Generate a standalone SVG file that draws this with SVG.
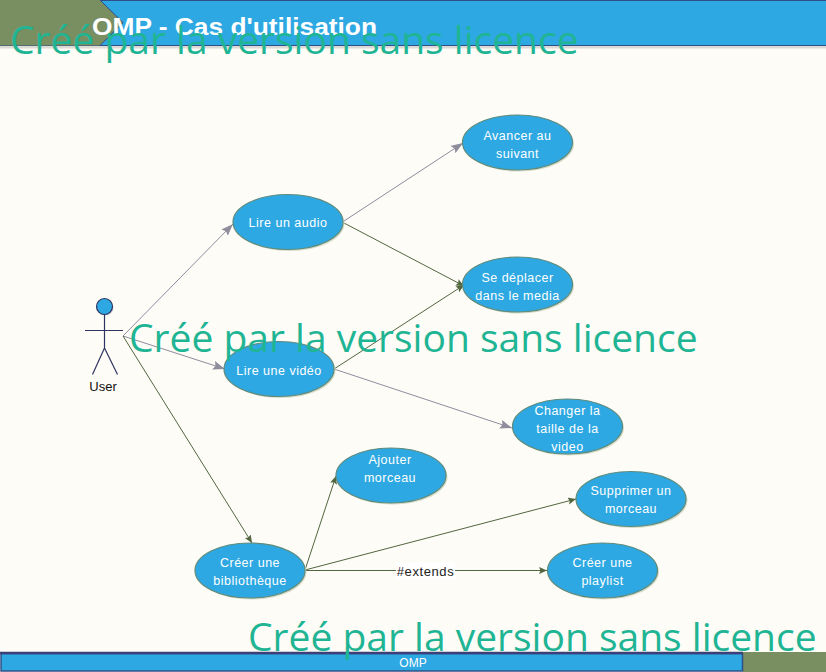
<svg xmlns="http://www.w3.org/2000/svg" width="826" height="672" viewBox="0 0 826 672">
<style>
text{font-family:"Liberation Sans","DejaVu Sans",sans-serif}
.u{fill:#2ea8e2;stroke:#5f8a7c;stroke-width:1.2}
.sh{fill:#d5dcc8}
.l{fill:#fff;font-size:12.5px;text-anchor:middle;letter-spacing:.5px}
.g{fill:none;stroke:#8f8c9c;stroke-width:1;marker-end:url(#ag)}
.d{fill:none;stroke:#52663f;stroke-width:1;marker-end:url(#ad)}
.w{fill:#1fb594;font-family:"Open Sans","Noto Sans",sans-serif;font-size:39px}
.a{fill:none;stroke:#2f3560;stroke-width:1.2}
</style>
<defs>
<marker id="ag" markerUnits="userSpaceOnUse" markerWidth="13" markerHeight="10" refX="12" refY="4.500" orient="auto"><path d="M0 0L12 4.500L0 9L2 4.500Z" fill="#8f8c9c"/></marker>
<marker id="ad" markerUnits="userSpaceOnUse" markerWidth="9" markerHeight="8" refX="8" refY="3.500" orient="auto"><path d="M0 0L8 3.500L0 7L1.500 3.500Z" fill="#52663f"/></marker>
</defs>
<rect width="826" height="672" fill="#fdfcf7"/>
<g id="header">
<rect x="0" y="46" width="826" height="2.500" fill="#dcdad6"/>
<rect x="0" y="0" width="826" height="45.500" fill="#2ea8e2"/>
<path d="M0 .5H826M0 45.500H826" stroke="#2f4f86" stroke-width="1" fill="none"/>
<path d="M0 0H100L123 22.700L100 45.500H0Z" fill="#7a8f61"/>
<path d="M100 0L123 22.700L100 45.500" stroke="#2f4f86" fill="none"/>
<text x="92" y="35" fill="#fff" font-size="24" font-weight="bold" textLength="285" lengthAdjust="spacingAndGlyphs">OMP - Cas d'utilisation</text>
</g>
<g id="footer">
<rect x="743" y="652" width="83" height="20" fill="#7a8f61"/>
<rect x="1" y="653.500" width="741.500" height="17.500" fill="#2ea8e2" stroke="#2f4f86" stroke-width="1.500"/>
<path d="M0 653H743" stroke="#3d3f78" stroke-width="2.500"/>
<text x="413" y="667" fill="#fff" font-size="12" text-anchor="middle">OMP</text>
</g>
<g id="connectors">
<path class="g" d="M123 336L233 224"/>
<path class="g" d="M123 336L225 369"/>
<path class="d" d="M123 336L252 543"/>
<path class="g" d="M344 221L463 143"/>
<path class="d" d="M344 223L464 286"/>
<path class="d" d="M334 369L464 285"/>
<path class="g" d="M334 369L512 428"/>
<path class="d" d="M305 570L336 476"/>
<path class="d" d="M305 570L576 499"/>
<path class="d" d="M305 570.500H547"/>
</g>
<g id="actor-user">
<circle cx="105.500" cy="307.500" r="8" fill="#d5d5dc"/>
<circle cx="104.500" cy="306.500" r="8" fill="#2ea8e2" stroke="#2f3560" stroke-width="1.200"/>
<path class="a" d="M104.500 314.500V348M85 330.500H123M104.500 348L92.500 374.500M104.500 348L117.500 374.500"/>
<text x="103" y="391" font-size="13" text-anchor="middle" fill="#111">User</text>
</g>
<g id="uc-audio"><ellipse class="sh" cx="289.500" cy="223.500" rx="55" ry="27.500"/><ellipse class="u" cx="288" cy="222" rx="55" ry="27.500"/><text class="l" x="288" y="227">Lire un audio</text></g>
<g id="uc-avancer"><ellipse class="sh" cx="519" cy="144" rx="55" ry="27.500"/><ellipse class="u" cx="517.500" cy="142.500" rx="55" ry="27.500"/><text class="l" x="517.500" y="140">Avancer au</text><text class="l" x="517.500" y="158">suivant</text></g>
<g id="uc-deplacer"><ellipse class="sh" cx="519" cy="286" rx="55" ry="27.500"/><ellipse class="u" cx="517.500" cy="284.500" rx="55" ry="27.500"/><text class="l" x="517.500" y="282">Se déplacer</text><text class="l" x="517.500" y="300">dans le media</text></g>
<g id="uc-video"><ellipse class="sh" cx="280.500" cy="370.500" rx="55" ry="27.500"/><ellipse class="u" cx="279" cy="369" rx="55" ry="27.500"/><text class="l" x="279" y="375">Lire une vidéo</text></g>
<g id="uc-taille"><ellipse class="sh" cx="569" cy="428" rx="55" ry="27.500"/><ellipse class="u" cx="567.500" cy="426.500" rx="55" ry="27.500"/><text class="l" x="567.500" y="415">Changer la</text><text class="l" x="567.500" y="433">taille de la</text><text class="l" x="567.500" y="451">video</text></g>
<g id="uc-ajouter"><ellipse class="sh" cx="392.500" cy="477" rx="55" ry="27.500"/><ellipse class="u" cx="391" cy="475.500" rx="55" ry="27.500"/><text class="l" x="390" y="464">Ajouter</text><text class="l" x="390" y="482">morceau</text></g>
<g id="uc-supprimer"><ellipse class="sh" cx="632.500" cy="500.500" rx="55" ry="27.500"/><ellipse class="u" cx="631" cy="499" rx="55" ry="27.500"/><text class="l" x="631" y="495">Supprimer un</text><text class="l" x="631" y="513">morceau</text></g>
<g id="uc-biblio"><ellipse class="sh" cx="251.500" cy="572" rx="55" ry="27.500"/><ellipse class="u" cx="250" cy="570.500" rx="55" ry="27.500"/><text class="l" x="250" y="567">Créer une</text><text class="l" x="250" y="585">bibliothèque</text></g>
<g id="uc-playlist"><ellipse class="sh" cx="604" cy="572" rx="55" ry="27.500"/><ellipse class="u" cx="602.500" cy="570.500" rx="55" ry="27.500"/><text class="l" x="602.500" y="567">Créer une</text><text class="l" x="602.500" y="585">playlist</text></g>
<g id="edge-label"><rect x="396" y="562" width="59" height="17" fill="#fff"/><text x="425.500" y="576" font-size="13" text-anchor="middle" fill="#222" letter-spacing=".6">#extends</text></g>
<g id="watermarks">
<text class="w" x="10" y="54">Créé par la version sans licence</text>
<text class="w" x="129" y="352">Créé par la version sans licence</text>
<text class="w" x="248" y="651">Créé par la version sans licence</text>
</g>
</svg>
